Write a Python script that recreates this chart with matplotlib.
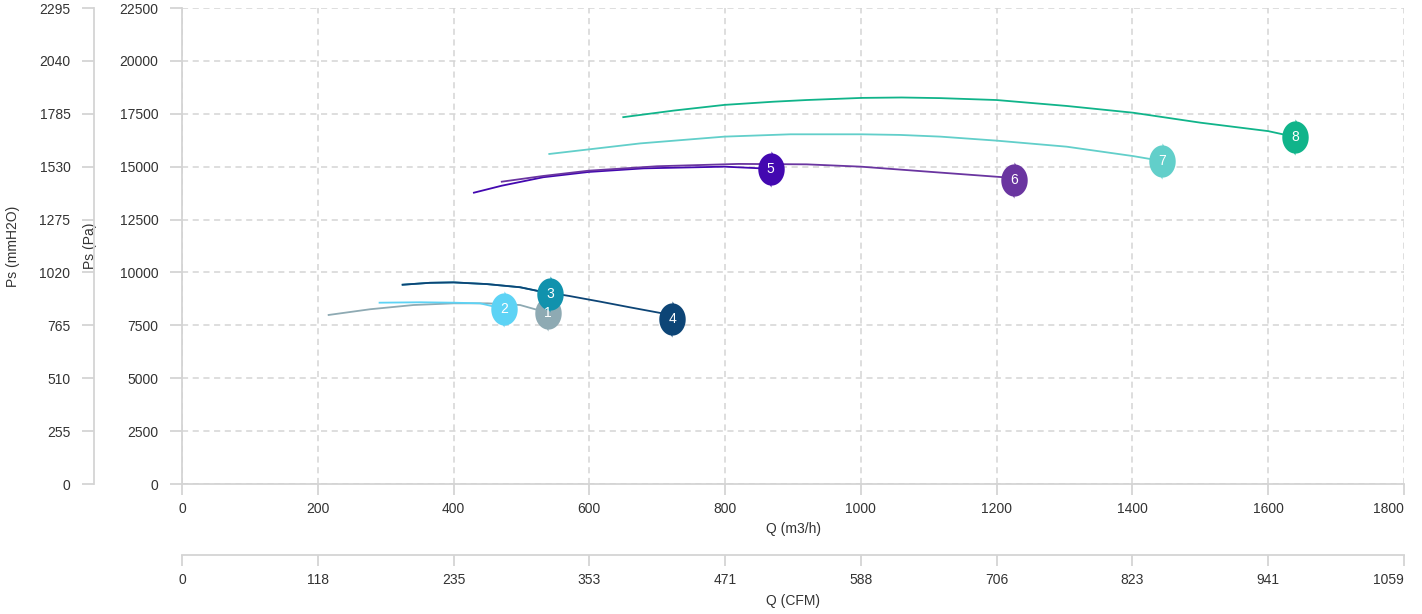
import numpy as np
import matplotlib.pyplot as plt
from matplotlib.path import Path

plt.rcParams['font.family'] = ['Liberation Sans', 'DejaVu Sans']

# axis ticks (m3/h and Pa) and the converted unit labels
q_ticks = [0, 200, 400, 600, 800, 1000, 1200, 1400, 1600, 1800]
cfm_labels = ['0', '118', '235', '353', '471', '588', '706', '823', '941', '1059']
pa_ticks = [0, 2500, 5000, 7500, 10000, 12500, 15000, 17500, 20000, 22500]
mm_labels = ['0', '255', '510', '765', '1020', '1275', '1530', '1785', '2040', '2295']

# fan curves (Q in m3/h, Ps in Pa)
q1 = [216, 277, 341, 400, 450, 498, 539]
ps1 = [7990, 8260, 8460, 8540, 8540, 8460, 8090]
q2 = [291, 351, 400, 439, 474]
ps2 = [8570, 8590, 8570, 8540, 8280]
q3 = [325, 365, 400, 449, 498, 522, 542]
ps3 = [9420, 9510, 9530, 9450, 9300, 9140, 8980]
q4 = [325, 365, 400, 449, 498, 522, 570, 616, 660, 707, 722]
ps4 = [9420, 9510, 9530, 9450, 9300, 9140, 8890, 8620, 8350, 8070, 7800]
q5 = [430, 471, 532, 599, 680, 799, 867]
ps5 = [13770, 14100, 14500, 14750, 14920, 15000, 14900]
q6 = [471, 532, 599, 700, 820, 920, 1000, 1117, 1210, 1226]
ps6 = [14290, 14560, 14810, 15020, 15130, 15110, 15000, 14720, 14500, 14350]
q7 = [541, 600, 675, 799, 896, 1001, 1058, 1117, 1200, 1303, 1401, 1443]
ps7 = [15600, 15820, 16100, 16420, 16530, 16530, 16500, 16420, 16230, 15945, 15500, 15270]
q8 = [650, 724, 799, 871, 920, 1001, 1060, 1117, 1200, 1303, 1401, 1500, 1600, 1640]
ps8 = [17340, 17650, 17920, 18070, 18150, 18250, 18270, 18240, 18150, 17870, 17550, 17080, 16680, 16400]

curves = [(q1, ps1), (q2, ps2), (q3, ps3), (q4, ps4),
          (q5, ps5), (q6, ps6), (q7, ps7), (q8, ps8)]
names = ['1', '2', '3', '4', '5', '6', '7', '8']
colors = ['#8eaab3', '#5dd3f5', '#1192ad', '#0d4576',
          '#4308b0', '#6a35a0', '#62cfca', '#10b48a']

# lemon shaped marker (circle with pointed top and bottom)
t = np.linspace(0, 2 * np.pi, 60, endpoint=False)
verts = [(0.82 * np.cos(a), np.sin(a)) for a in t]
verts.insert(15, (0, 1.12))
verts.insert(46, (0, -1.12))
verts.append(verts[0])
lemon = Path(verts, closed=True)

grid_c = '#d4d4d4'
tick_c = '#333333'

fig = plt.figure(figsize=(14.22, 6.14), dpi=100)
ax = fig.add_axes([182 / 1422, 130 / 614, 1222 / 1422, 476 / 614])

ax.set_xlim(0, 1800)
ax.set_ylim(0, 22500)
ax.set_xticks(q_ticks)
ax.set_yticks(pa_ticks)
ax.grid(True, color=grid_c, linestyle=(0, (4, 3)), linewidth=1.1)
ax.set_axisbelow(True)
for s in ['top', 'right']:
    ax.spines[s].set_visible(False)
for s in ['left', 'bottom']:
    ax.spines[s].set_color(grid_c)
    ax.spines[s].set_linewidth(1.3)
ax.tick_params(axis='x', colors=grid_c, labelcolor=tick_c, length=8, width=1.3, pad=5, labelsize=10)
ax.tick_params(axis='y', colors=grid_c, labelcolor=tick_c, length=9, width=1.3, pad=8, labelsize=10)
ax.get_xticklabels()[-1].set_ha('right')
ax.set_xlabel('Q (m3/h)', fontsize=10, color=tick_c)
ax.xaxis.set_label_coords(0.5, -0.08)
ax.set_ylabel('Ps (Pa)', fontsize=10, color=tick_c)
ax.yaxis.set_label_coords(-0.0696, 0.5)

for (q, ps), c in zip(curves, colors):
    ax.plot(q, ps, color=c, linewidth=1.3, zorder=3)
for (q, ps), c, n in zip(curves, colors, names):
    ax.plot(q[-1], ps[-1], marker=lemon, markersize=26, color=c,
            markeredgewidth=0, linestyle='none', zorder=4)
    ax.text(q[-1], ps[-1], n, color='white', fontsize=10,
            ha='center', va='center', zorder=5)

# mmH2O axis on the far left
ax_mm = ax.twinx()
ax_mm.set_ylim(ax.get_ylim())
ax_mm.yaxis.set_ticks_position('left')
ax_mm.yaxis.set_label_position('left')
ax_mm.set_yticks(pa_ticks)
ax_mm.set_yticklabels(mm_labels)
for s in ['top', 'right', 'bottom']:
    ax_mm.spines[s].set_visible(False)
ax_mm.spines['left'].set_position(('outward', 88 * 0.72))
ax_mm.spines['left'].set_color(grid_c)
ax_mm.spines['left'].set_linewidth(1.3)
ax_mm.tick_params(axis='y', colors=grid_c, labelcolor=tick_c, length=9, width=1.3, pad=8, labelsize=10)
ax_mm.set_ylabel('Ps (mmH2O)', fontsize=10, color=tick_c)
ax_mm.yaxis.set_label_coords(-0.1326, 0.5)

# CFM axis below
ax_cfm = ax.twiny()
ax_cfm.set_xlim(ax.get_xlim())
ax_cfm.xaxis.set_ticks_position('bottom')
ax_cfm.xaxis.set_label_position('bottom')
ax_cfm.set_xticks(q_ticks)
ax_cfm.set_xticklabels(cfm_labels)
for s in ['top', 'right', 'left']:
    ax_cfm.spines[s].set_visible(False)
ax_cfm.spines['bottom'].set_position(('outward', 71 * 0.72))
ax_cfm.spines['bottom'].set_color(grid_c)
ax_cfm.spines['bottom'].set_linewidth(1.3)
ax_cfm.tick_params(axis='x', colors=grid_c, labelcolor=tick_c, length=8, width=1.3, pad=5, labelsize=10)
for lab in ax_cfm.xaxis.get_ticklabels(which='major'):
    if lab.get_text() == '1059':
        lab.set_ha('right')
ax_cfm.set_xlabel('Q (CFM)', fontsize=10, color=tick_c)
ax_cfm.xaxis.set_label_coords(0.5, -0.231)

fig.savefig('out.png', dpi=100)
